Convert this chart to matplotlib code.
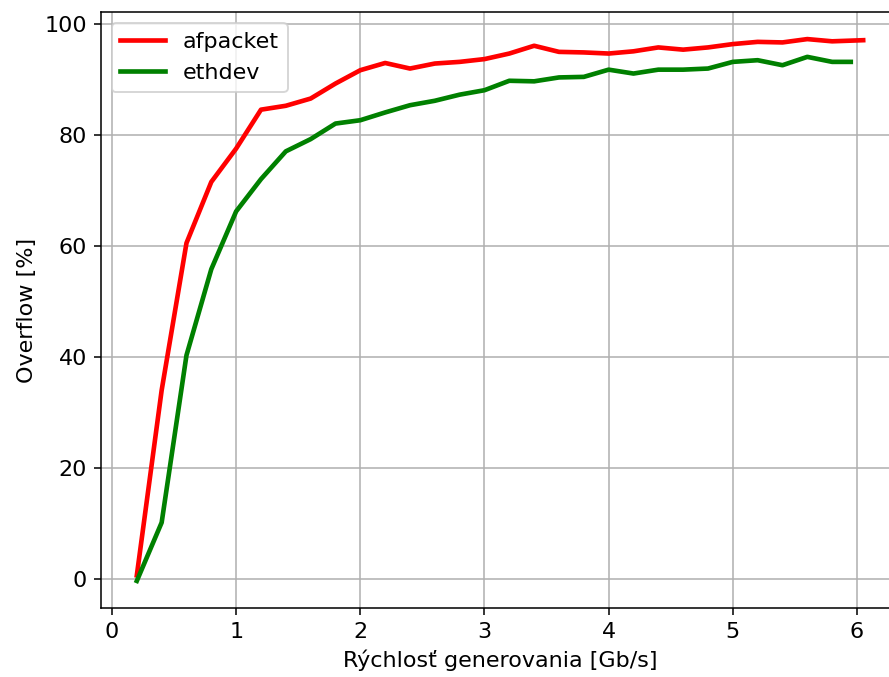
import numpy as np
import matplotlib
matplotlib.use("Agg")
import matplotlib.pyplot as plt

# rychlost generovania [Gb/s]
x_af = [0.2, 0.4, 0.6, 0.8, 1.0, 1.2, 1.4, 1.6, 1.8, 2.0, 2.2, 2.4, 2.6, 2.8, 3.0,
        3.2, 3.4, 3.6, 3.8, 4.0, 4.2, 4.4, 4.6, 4.8, 5.0, 5.2, 5.4, 5.6, 5.8, 6.05]
y_af = [0.7, 34.0, 60.5, 71.5, 77.5, 84.5, 85.2, 86.5, 89.2, 91.6, 92.9, 91.9, 92.8, 93.1, 93.6,
        94.6, 96.0, 94.9, 94.8, 94.6, 95.0, 95.7, 95.3, 95.7, 96.3, 96.7, 96.6, 97.2, 96.8, 97.0]

x_eth = [0.2, 0.4, 0.6, 0.8, 1.0, 1.2, 1.4, 1.6, 1.8, 2.0, 2.2, 2.4, 2.6, 2.8, 3.0,
         3.2, 3.4, 3.6, 3.8, 4.0, 4.2, 4.4, 4.6, 4.8, 5.0, 5.2, 5.4, 5.6, 5.8, 5.95]
y_eth = [-0.3, 10.2, 40.3, 55.8, 66.2, 72.0, 77.0, 79.2, 82.0, 82.6, 84.0, 85.3, 86.1, 87.2, 88.0,
         89.7, 89.6, 90.3, 90.4, 91.7, 91.0, 91.7, 91.7, 91.9, 93.1, 93.4, 92.5, 94.0, 93.1, 93.1]

plt.rcParams["font.size"] = 11.5

fig = plt.figure(figsize=(889/139, 677/139), dpi=139)
# os siaha az za pravy okraj obrazku (ako v originale)
ax = fig.add_axes([100.5/889, 69/677, 799/889, 596/677])

ax.plot(x_af, y_af, color="red", linewidth=2.4, label="afpacket")
ax.plot(x_eth, y_eth, color="green", linewidth=2.4, label="ethdev")

ax.set_xlabel("Rýchlosť generovania [Gb/s]")
ax.set_ylabel("Overflow [%]")
ax.set_yticks([0, 20, 40, 60, 80, 100])
ax.set_xticks([0, 1, 2, 3, 4, 5, 6])
ax.grid()
ax.legend(loc="upper left")

fig.savefig("out.png", dpi=139)
